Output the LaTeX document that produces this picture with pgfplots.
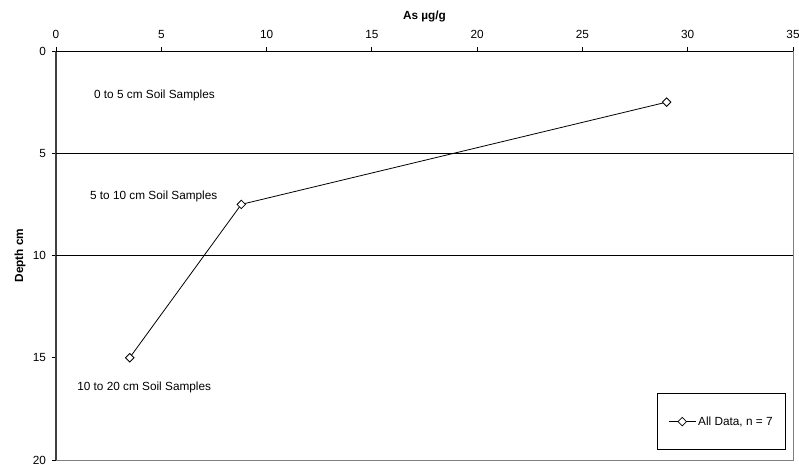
\documentclass[border=0pt]{standalone}
\usepackage{fontspec}
\setmainfont{Liberation Sans}
\usepackage{pgfplots}
\pgfplotsset{compat=1.18}
\begin{document}
\begin{tikzpicture}
\path[use as bounding box] (-56bp,-5bp) rectangle (743bp,460bp);
\begin{axis}[
  at={(0,0)}, anchor=south west,
  scale only axis, width=737bp, height=409bp,
  xmin=0, xmax=35, ymin=0, ymax=20, y dir=reverse,
  xtick={0,5,...,35}, ytick={0,5,...,20},
  xtick pos=top, xticklabel pos=top, ytick pos=left,
  tick align=outside, major tick length=4bp,
  xticklabel shift=5bp, yticklabel shift=2.5bp,
  tick style={black, line width=0.8bp},
  axis line style={draw=none},
  /pgf/number format/assume math mode=true,
  tick label style={font=\fontsize{11.8bp}{14bp}\selectfont},
  label style={font=\fontsize{11.8bp}{14bp}\selectfont\bfseries},
  xlabel={As µg/g},
  xlabel style={at={(axis description cs:0.5,1.0856)}, anchor=center},
  ylabel={Depth cm},
  ylabel style={at={(axis description cs:-0.0488,0.5)}, anchor=center, rotate=0},
  legend style={at={(axis description cs:0.9905,0.02445)}, anchor=south east,
    draw=black, line width=0.8bp, inner xsep=11bp, inner ysep=21bp,
    font=\fontsize{11.8bp}{14bp}\selectfont},
  legend image code/.code={
    \draw[#1, mark repeat=2, mark phase=2] plot coordinates {(0bp,0bp) (13.5bp,0bp) (27bp,0bp)};
  },
  clip=false,
]
% frame
\draw[gray, line width=1bp] (axis cs:35,0) -- (axis cs:35,20) -- (axis cs:0,20);
\draw[black!75, line width=1.4bp] (axis cs:0,20) -- (axis cs:0,0);
\draw[black, line width=1bp] (axis cs:0,0) -- (axis cs:35,0);
% depth boundaries
\addplot[black, line width=0.8bp, forget plot] coordinates {(0,5) (35,5)};
\addplot[black, line width=0.8bp, forget plot] coordinates {(0,10) (35,10)};
% data
\addplot[black, line width=0.8bp, mark=square*, mark size=3bp,
  mark options={rotate=45, fill=white, solid}]
  coordinates {(29,2.5) (8.8,7.5) (3.5,15)};
\addlegendentry{All Data, n = 7}
\node[anchor=west, inner sep=0, font=\fontsize{11.8bp}{14bp}\selectfont] at (axis cs:1.80,2.15) {0 to 5 cm Soil Samples};
\node[anchor=west, inner sep=0, font=\fontsize{11.8bp}{14bp}\selectfont] at (axis cs:1.61,7.09) {5 to 10 cm Soil Samples};
\node[anchor=west, inner sep=0, font=\fontsize{11.8bp}{14bp}\selectfont] at (axis cs:1.00,16.43) {10 to 20 cm Soil Samples};
\end{axis}
\end{tikzpicture}
\end{document}
